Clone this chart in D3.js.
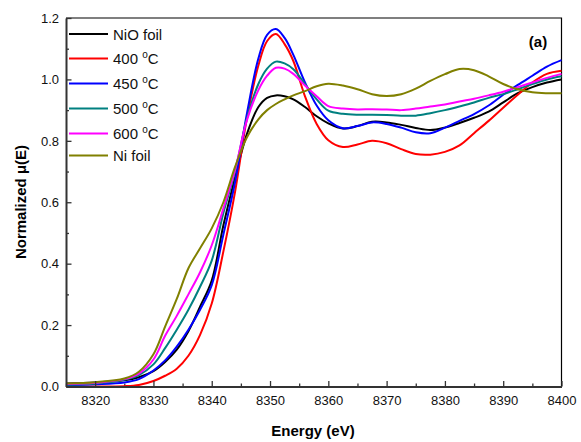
<!DOCTYPE html>
<html lang="en">
  <head>
    <meta charset="UTF-8" />
    <title>Normalized XANES</title>
    <script src="https://cdn.jsdelivr.net/npm/d3@7/dist/d3.min.js"></script>
    <style>
      body { margin: 0; background: #fff; }
      svg { display: block; font-family: "Liberation Sans", Arial, sans-serif; }
    </style>
  </head>
  <body>
    <div id="chart"></div>
    <script>
      // energy grid (eV)
      const energy = [8315, 8320, 8325, 8327.5, 8330, 8332, 8334, 8336, 8338, 8340, 8342, 8344, 8346, 8348, 8349.5, 8351, 8352.5, 8354, 8356, 8358, 8360, 8362.5, 8365, 8367.5, 8370, 8372.5, 8375, 8377.5, 8380, 8382.5, 8385, 8387.5, 8390, 8392.5, 8395, 8397.5, 8400];

      const nioFoil = [0.01, 0.013, 0.02, 0.03, 0.05, 0.08, 0.12, 0.18, 0.26, 0.345, 0.525, 0.68, 0.82, 0.91, 0.94, 0.948, 0.945, 0.935, 0.91, 0.88, 0.857, 0.84, 0.848, 0.862, 0.86, 0.852, 0.842, 0.835, 0.843, 0.858, 0.875, 0.895, 0.925, 0.955, 0.975, 0.99, 1.0];
      const t400 = [0, 0, 0.001, 0.005, 0.018, 0.035, 0.058, 0.1, 0.168, 0.27, 0.44, 0.634, 0.87, 1.045, 1.125, 1.148, 1.115, 1.06, 0.945, 0.855, 0.802, 0.78, 0.788, 0.8, 0.792, 0.773, 0.757, 0.755, 0.764, 0.785, 0.825, 0.865, 0.908, 0.95, 0.99, 1.018, 1.028];
      const t450 = [0.004, 0.007, 0.013, 0.024, 0.052, 0.085, 0.13, 0.185, 0.25, 0.33, 0.495, 0.665, 0.885, 1.068, 1.145, 1.164, 1.135, 1.08, 0.99, 0.915, 0.867, 0.841, 0.848, 0.86, 0.855, 0.843, 0.828, 0.825, 0.843, 0.865, 0.887, 0.915, 0.95, 0.982, 1.012, 1.042, 1.063];
      const t500 = [0.006, 0.01, 0.022, 0.037, 0.072, 0.125, 0.185, 0.25, 0.325, 0.41, 0.565, 0.7, 0.87, 0.985, 1.035, 1.058, 1.052, 1.033, 0.985, 0.935, 0.898, 0.888, 0.885, 0.885, 0.884, 0.882, 0.882, 0.89, 0.9, 0.912, 0.925, 0.94, 0.952, 0.968, 0.985, 1.0, 1.01];
      const t600 = [0.008, 0.012, 0.024, 0.042, 0.088, 0.165, 0.23, 0.3, 0.372, 0.46, 0.58, 0.705, 0.865, 0.965, 1.012, 1.038, 1.035, 1.018, 0.98, 0.945, 0.913, 0.905, 0.902, 0.903, 0.902, 0.9, 0.905, 0.912, 0.918, 0.928, 0.937, 0.948, 0.96, 0.975, 0.99, 1.005, 1.018];
      const niFoil = [0.01, 0.014, 0.026, 0.048, 0.105, 0.195, 0.285, 0.385, 0.45, 0.515, 0.6, 0.715, 0.81, 0.87, 0.9, 0.92, 0.935, 0.948, 0.962, 0.978, 0.986, 0.98, 0.968, 0.952, 0.946, 0.952, 0.97, 0.995, 1.017, 1.034, 1.03, 1.01, 0.985, 0.968, 0.958, 0.955, 0.955];

      const seriesNames = ["NiO foil", "400", "450", "500", "600", "Ni foil"];
      const seriesColors = ["#000000", "#ff0000", "#0000ff", "#008080", "#ff00ff", "#808000"];
      const seriesValues = [nioFoil, t400, t450, t500, t600, niFoil];

      const xTicks = [8320, 8330, 8340, 8350, 8360, 8370, 8380, 8390, 8400];
      const yTicks = [0.0, 0.2, 0.4, 0.6, 0.8, 1.0, 1.2];

      const width = 581;
      const height = 442;
      const margin = { left: 66, right: 19.5, top: 18, bottom: 55.5 };

      let svg = d3
        .select("#chart")
        .append("svg")
        .attr("width", width)
        .attr("height", height);

      let x = d3
        .scaleLinear()
        .domain([8315, 8400])
        .range([margin.left, width - margin.right]);
      let y = d3
        .scaleLinear()
        .domain([0, 1.2])
        .range([height - margin.bottom, margin.top]);

      // frame (top and right)
      svg
        .append("path")
        .attr(
          "d",
          "M" + x(8315) + "," + y(1.2) + "H" + x(8400) + "V" + y(0)
        )
        .attr("fill", "none")
        .attr("stroke", "#000")
        .attr("stroke-width", 1.2);

      // minor ticks
      let minorX = d3.range(8315, 8401, 5).filter((v) => v % 10 !== 0);
      let minorY = d3.range(0.1, 1.2, 0.2);

      svg
        .append("g")
        .attr("transform", "translate(0," + y(0) + ")")
        .call(d3.axisBottom(x).tickValues(minorX).tickSize(-3).tickSizeOuter(0).tickFormat(""))
        .call((g) => g.select(".domain").remove());
      svg
        .append("g")
        .attr("transform", "translate(" + x(8315) + ",0)")
        .call(d3.axisLeft(y).tickValues(minorY).tickSize(-3).tickSizeOuter(0).tickFormat(""))
        .call((g) => g.select(".domain").remove());

      // lines
      let line = d3
        .line()
        .x((d, i) => x(energy[i]))
        .y((d) => y(d))
        .curve(d3.curveCatmullRom.alpha(0.5));

      svg
        .append("g")
        .selectAll("path")
        .data(seriesValues)
        .join("path")
        .attr("d", line)
        .attr("fill", "none")
        .attr("stroke", (d, i) => seriesColors[i])
        .attr("stroke-width", 2)
        .attr("stroke-linejoin", "round");

      // main axes
      let xAxis = svg
        .append("g")
        .attr("transform", "translate(0," + y(0) + ")")
        .call(d3.axisBottom(x).tickValues(xTicks).tickSize(-5.5).tickSizeOuter(0).tickPadding(9).tickFormat(d3.format("d")));
      let yAxis = svg
        .append("g")
        .attr("transform", "translate(" + x(8315) + ",0)")
        .call(d3.axisLeft(y).tickValues(yTicks).tickSize(-5.5).tickSizeOuter(0).tickPadding(7).tickFormat(d3.format(".1f")));

      [xAxis, yAxis].forEach((g) => {
        g.selectAll("text").attr("font-size", 13).attr("fill", "#111").attr("font-family", null);
        g.select(".domain").attr("stroke", "#333").attr("stroke-width", 2);
      });
      svg.selectAll("g line").attr("stroke", "#333").attr("stroke-width", 1.3);

      // axis titles
      svg
        .append("text")
        .attr("x", 313)
        .attr("y", 436)
        .attr("text-anchor", "middle")
        .attr("font-size", 15)
        .attr("font-weight", "bold")
        .text("Energy (eV)");

      svg
        .append("text")
        .attr("transform", "translate(26,202) rotate(-90)")
        .attr("text-anchor", "middle")
        .attr("font-size", 15)
        .attr("font-weight", "bold")
        .text("Normalized \u03bc(E)");

      // panel label
      svg
        .append("text")
        .attr("x", 538)
        .attr("y", 47)
        .attr("text-anchor", "middle")
        .attr("font-size", 15)
        .attr("font-weight", "bold")
        .text("(a)");

      // legend
      let legendY = [34, 58.5, 83.5, 108.5, 133.5, 155.5];
      let legend = svg
        .append("g")
        .selectAll("g")
        .data(seriesNames)
        .join("g")
        .attr("transform", (d, i) => "translate(69," + legendY[i] + ")");
      legend
        .append("line")
        .attr("x1", 0)
        .attr("x2", 39)
        .attr("stroke", (d, i) => seriesColors[i])
        .attr("stroke-width", 2);
      let legendText = legend
        .append("text")
        .attr("x", 44)
        .attr("y", 5.5)
        .attr("font-size", 15)
        .attr("fill", "#111");
      legendText.each(function (d) {
        let t = d3.select(this);
        if (d.indexOf("foil") >= 0) {
          t.text(d);
        } else {
          t.append("tspan").text(d + " ");
          t.append("tspan").attr("dy", -6).attr("font-size", 10).text("o");
          t.append("tspan").attr("dy", 6).text("C");
        }
      });
    </script>
  </body>
</html>
